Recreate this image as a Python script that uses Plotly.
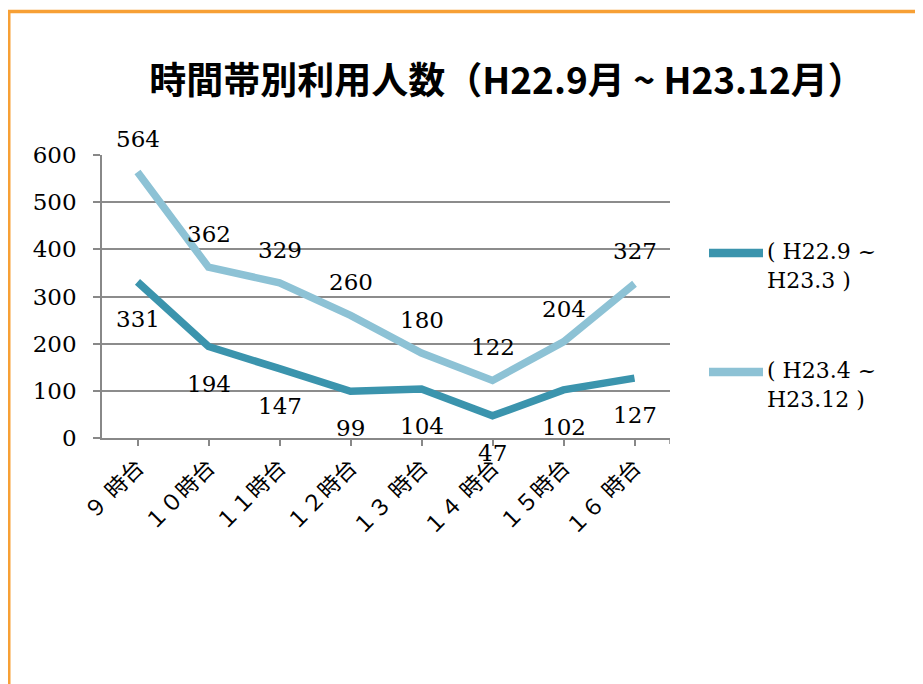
import plotly.graph_objects as go

categories = ["９ 時台", "１０時台", "１１時台", "１２時台", "１３ 時台", "１４ 時台", "１５時台", "１６ 時台"]
series1_name = "( H22.9 ~<br>H23.3 )"
series1 = [331, 194, 147, 99, 104, 47, 102, 127]
series2_name = "( H23.4 ~<br>H23.12 )"
series2 = [564, 362, 329, 260, 180, 122, 204, 327]
y_ticks = [0, 100, 200, 300, 400, 500, 600]
title_text = "時間帯別利用人数（H22.9月 ~ H23.12月）"

c1 = "#3B94AD"
c2 = "#8DC2D5"
orange = "#F7A035"
serif = "DejaVu Serif, Noto Sans CJK JP"

# page body has an 8px margin; layout below is in screen pixels
OFF = 8
W, H = 915, 676
L, T, PW, PH = 94, 147, 568, 283


def px(sx):
    return (sx - OFF - L) / PW


def py(sy):
    return ((T + PH + OFF) - sy) / PH


x_idx = list(range(len(categories)))

fig = go.Figure()
fig.add_trace(go.Scatter(x=x_idx, y=series1, mode="lines", name=series1_name,
                         line=dict(color=c1, width=7.5), showlegend=False))
fig.add_trace(go.Scatter(x=x_idx, y=series2, mode="lines", name=series2_name,
                         line=dict(color=c2, width=7.5), showlegend=False))

lab_font = dict(family=serif, size=23, color="black")
annotations = []
for xi, v in zip(x_idx, series1):
    annotations.append(dict(x=xi, y=v, text=str(v), showarrow=False, yshift=-37, font=lab_font))
for xi, v in zip(x_idx, series2):
    annotations.append(dict(x=xi, y=v, text=str(v), showarrow=False, yshift=33, font=lab_font))

# legend (drawn manually to match long swatches)
legend_items = [(series1_name, c1, 253), (series2_name, c2, 372)]
shapes = []
for name, col, sy in legend_items:
    shapes.append(dict(type="line", xref="paper", yref="paper", x0=px(709), x1=px(763),
                       y0=py(sy), y1=py(sy), line=dict(color=col, width=8.5)))
    annotations.append(dict(xref="paper", yref="paper", x=px(765), y=py(sy - 16), xanchor="left",
                            yanchor="top", align="left", text=name, showarrow=False,
                            font=dict(family=serif, size=22, color="black")))

shapes += [
    # orange frame (left and top)
    dict(type="line", xref="paper", yref="paper", x0=px(9), x1=px(9),
         y0=py(10), y1=py(700), line=dict(color=orange, width=3)),
    dict(type="line", xref="paper", yref="paper", x0=px(7.5), x1=px(940),
         y0=py(11.5), y1=py(11.5), line=dict(color=orange, width=3.5)),
    # end tick at right of category axis
    dict(type="line", xref="x", yref="paper", x0=7.5, x1=7.5, y0=0, y1=-6 / PH,
         line=dict(color="#888888", width=1.5)),
]

fig.update_layout(
    width=W, height=H,
    margin=dict(l=L, r=W - L - PW, t=T, b=H - T - PH, pad=0),
    paper_bgcolor="white", plot_bgcolor="white",
    title=dict(text=title_text, x=(507 - OFF) / W, xanchor="center", y=1 - (81 - OFF) / H,
               yanchor="middle",
               font=dict(family="Noto Sans CJK JP", size=37, color="black", weight="bold")),
    xaxis=dict(range=[-0.5, 7.5], tickmode="array", tickvals=x_idx, ticktext=categories,
               tickangle=-45, showgrid=False, showline=True, linecolor="#888888", linewidth=1.5,
               ticks="outside", ticklen=6, tickcolor="#888888", tickwidth=1.5,
               tickfont=dict(family=serif, size=22, color="black"), zeroline=False),
    yaxis=dict(range=[0, 600], tickvals=y_ticks, showgrid=True, gridcolor="#8C8C8C", gridwidth=1.5,
               showline=True, linecolor="#888888", linewidth=1.5, ticks="outside", ticklen=7,
               tickcolor="#888888", tickwidth=1.5, zeroline=False, ticklabelstandoff=12,
               tickfont=dict(family=serif, size=23, color="black")),
    annotations=annotations,
    shapes=shapes,
    showlegend=False,
)

fig.write_html("out.html")
